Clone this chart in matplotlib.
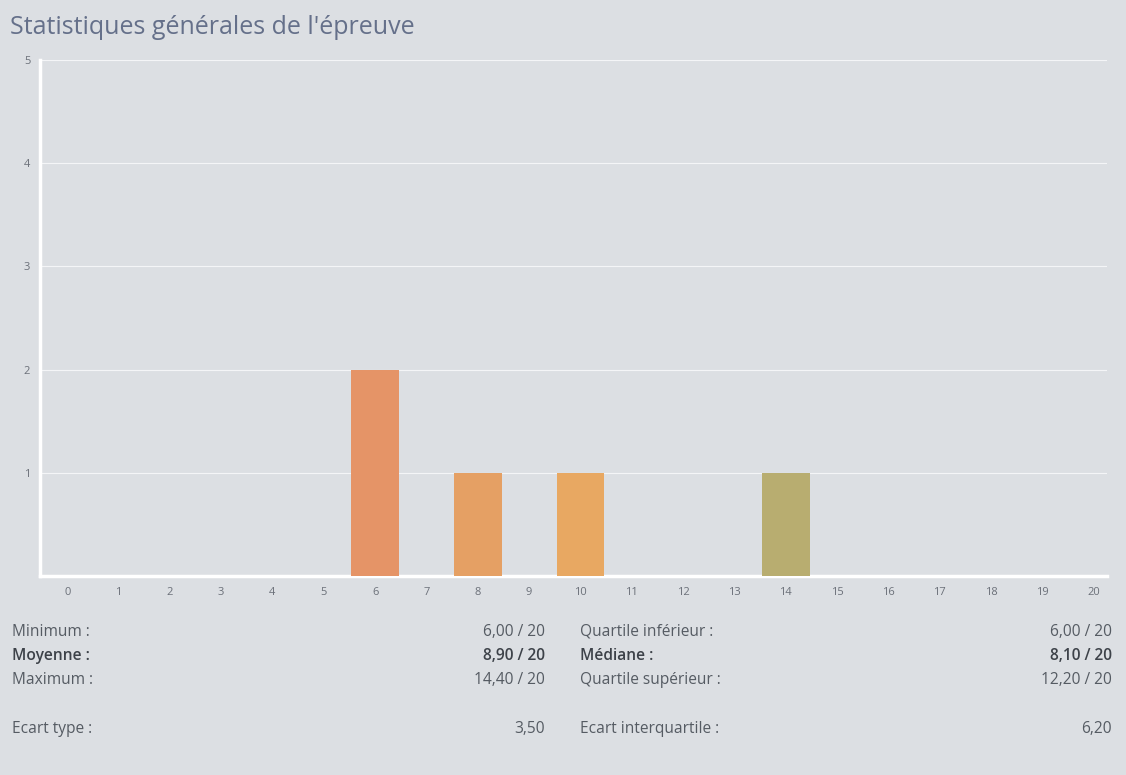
"""
Statistiques générales de l'épreuve — histogramme des notes + tableau de stats.
"""

import matplotlib
matplotlib.use("Agg")
import matplotlib.pyplot as plt

# données
grades = list(range(0, 21))
counts = [0, 0, 0, 0, 0, 0, 2, 0, 1, 0, 1, 0, 0, 0, 1, 0, 0, 0, 0, 0, 0]
bar_colors = {6: "#E59467", 8: "#E5A064", 10: "#E8A862", 14: "#B8AD70"}
y_ticks = [1, 2, 3, 4, 5]

left_labels = ["Minimum :", "Moyenne :", "Maximum :", "Ecart type :"]
left_values = ["6,00 / 20", "8,90 / 20", "14,40 / 20", "3,50"]
right_labels = ["Quartile inférieur :", "Médiane :", "Quartile supérieur :", "Ecart interquartile :"]
right_values = ["6,00 / 20", "8,10 / 20", "12,20 / 20", "6,20"]
bold_rows = [False, True, False, False]

BG = "#DCDFE3"
TEXT = "#555B63"
W, H = 1126, 775

plt.rcParams["font.family"] = ["Open Sans", "DejaVu Sans"]

fig = plt.figure(figsize=(W / 100, H / 100), dpi=100, facecolor=BG)
ax = fig.add_axes([40 / W, 1 - 576 / H, (1107 - 40) / W, (576 - 60) / H])
ax.set_facecolor(BG)

colors = [bar_colors.get(g, "#E5A064") for g in grades]
ax.bar(grades, counts, width=0.93, color=colors, zorder=3)

ax.set_xlim(-0.53, 20.26)
ax.set_ylim(0, 5)
ax.set_xticks(grades)
ax.set_xticklabels([str(g) for g in grades])
ax.set_yticks(y_ticks)
ax.grid(axis="y", color="#F4F5F7", linewidth=0.8, zorder=1)
for s in ["top", "right"]:
    ax.spines[s].set_visible(False)
for s in ["left", "bottom"]:
    ax.spines[s].set_color("white")
    ax.spines[s].set_linewidth(2.5)
ax.tick_params(axis="both", length=0, labelsize=8, colors="#6B7079")
ax.tick_params(axis="x", pad=8)
ax.tick_params(axis="y", pad=7)

fig.text(10 / W, 1 - 34 / H, "Statistiques générales de l'épreuve",
         fontsize=18, color="#65708A", va="baseline")

row_y = [632, 656, 680, 729]
for i, y in enumerate(row_y):
    fw = "semibold" if bold_rows[i] else "normal"
    col = "#3D4249" if bold_rows[i] else TEXT
    yy = 1 - y / H
    fig.text(12 / W, yy, left_labels[i], fontsize=11.2, color=col,
             fontweight=fw, va="center")
    fig.text(545 / W, yy, left_values[i], fontsize=11.2, color=col,
             fontweight=fw, va="center", ha="right")
    fig.text(580 / W, yy, right_labels[i], fontsize=11.2, color=col,
             fontweight=fw, va="center")
    fig.text(1112 / W, yy, right_values[i], fontsize=11.2, color=col,
             fontweight=fw, va="center", ha="right")

fig.savefig("out.png", dpi=100, facecolor=BG)
